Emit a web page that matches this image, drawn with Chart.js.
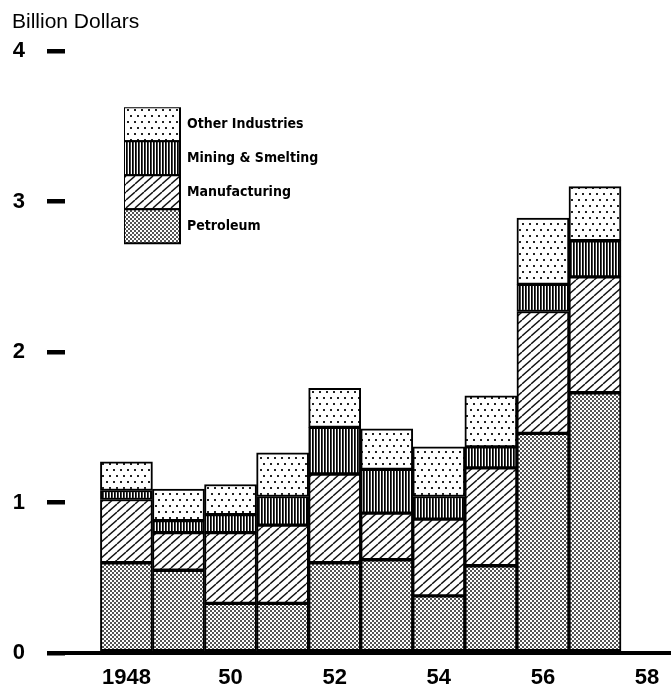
<!DOCTYPE html>
<html>
<head>
<meta charset="utf-8">
<script src="https://cdn.jsdelivr.net/npm/chart.js@4/dist/chart.umd.min.js"></script>
<style>
  html, body { margin: 0; padding: 0; background: #fff; }
  #box { width: 671px; height: 689px; position: relative; }
</style>
</head>
<body>
<div id="box"><canvas id="grafico"></canvas></div>
<script>
// === DATA ===
const years = [1948, 1949, 1950, 1951, 1952, 1953, 1954, 1955, 1956, 1957];
const petroleum = [0.60, 0.55, 0.33, 0.33, 0.60, 0.62, 0.38, 0.58, 1.46, 1.73];
const manufacturing = [0.42, 0.25, 0.47, 0.52, 0.59, 0.31, 0.51, 0.65, 0.81, 0.77];
const mining = [0.06, 0.08, 0.12, 0.19, 0.31, 0.29, 0.15, 0.14, 0.18, 0.24];
const other = [0.19, 0.21, 0.20, 0.29, 0.26, 0.27, 0.33, 0.34, 0.44, 0.36];

const xTickValues = [1948, 1950, 1952, 1954, 1956, 1958];
const xTickLabels = ["1948", "50", "52", "54", "56", "58"];
const yTickValues = [0, 1, 2, 3, 4];

// === PATTERNS ===
function makePattern(w, h, draw) {
  const c = document.createElement("canvas");
  c.width = w; c.height = h;
  const g = c.getContext("2d");
  g.fillStyle = "#fff";
  g.fillRect(0, 0, w, h);
  draw(g, w, h);
  return g.createPattern(c, "repeat");
}

const patPetroleum = makePattern(4, 4, g => {
  g.fillStyle = "#555";
  g.fillRect(0, 0, 2, 2);
  g.fillRect(2, 2, 2, 2);
});

const patManufacturing = makePattern(9, 8, (g, w, h) => {
  g.strokeStyle = "#111";
  g.lineWidth = 1.4;
  for (let k = -1; k <= 1; k++) {
    g.beginPath();
    g.moveTo(k * w, h);
    g.lineTo((k + 1) * w, 0);
    g.stroke();
  }
});

const patMining = makePattern(3, 1, g => {
  g.fillStyle = "#000";
  g.fillRect(0, 0, 1, 1);
  g.fillStyle = "#444";
  g.fillRect(1, 0, 1, 1);
});

const patOther = makePattern(7, 12, g => {
  g.fillStyle = "#222";
  g.fillRect(1, 1, 2, 2);
  g.fillRect(4, 7, 2, 2);
});

function serie(label, values, pattern) {
  return {
    label,
    data: values.map((v, i) => ({ x: years[i], y: v })),
    backgroundColor: pattern,
    borderColor: "#000",
    borderWidth: 2,
    borderSkipped: false,
    categoryPercentage: 1,
    barPercentage: 1
  };
}

// legend sits inside the plot, near the top-left
const moveLegend = {
  id: "moveLegend",
  afterLayout(chart) {
    const lg = chart.legend, a = chart.chartArea;
    lg.left = a.left + 59;
    lg.top = a.top + 56;
    lg.right = lg.left + lg.width;
    lg.bottom = lg.top + lg.height;
  }
};

const tickFont = { family: "'Liberation Sans', Arial, sans-serif", size: 22, weight: "bold" };

new Chart(document.getElementById("grafico"), {
  type: "bar",
  data: {
    datasets: [
      serie("Petroleum", petroleum, patPetroleum),
      serie("Manufacturing", manufacturing, patManufacturing),
      serie("Mining & Smelting", mining, patMining),
      serie("Other Industries", other, patOther)
    ]
  },
  plugins: [moveLegend],
  options: {
    responsive: true,
    maintainAspectRatio: false,
    animation: false,
    layout: { padding: { left: 12, right: 0, top: 0, bottom: 0 } },
    plugins: {
      tooltip: { enabled: false },
      title: {
        display: true,
        text: "Billion Dollars",
        align: "start",
        color: "#000",
        font: { family: "'Liberation Sans', Arial, sans-serif", size: 21, weight: "normal" },
        padding: { top: 10, bottom: 16 }
      },
      legend: {
        position: "chartArea",
        fullSize: false,
        align: "start",
        reverse: true,
        labels: {
          boxWidth: 56,
          boxHeight: 34,
          padding: 0,
          color: "#000",
          font: { family: "'Liberation Sans Narrow', 'DejaVu Sans Condensed', 'Liberation Sans', sans-serif", size: 14, weight: "bold" }
        }
      }
    },
    scales: {
      x: {
        type: "linear",
        stacked: true,
        offset: false,
        min: 1946.82,
        max: 1958.46,
        grid: { display: false, drawTicks: false },
        border: { display: true, color: "#000", width: 4 },
        afterBuildTicks: s => { s.ticks = xTickValues.map(v => ({ value: v })); },
        afterFit: s => { s.paddingLeft = 0; s.paddingRight = 0; s.height = 36; },
        ticks: {
          color: "#000",
          padding: 14,
          autoSkip: false,
          maxRotation: 0,
          font: { ...tickFont, lineHeight: 1 },
          callback: v => xTickLabels[xTickValues.indexOf(v)]
        }
      },
      y: {
        stacked: true,
        min: 0,
        max: 4,
        border: { display: false },
        grid: { drawOnChartArea: false, drawTicks: true, tickLength: 18, lineWidth: 4.5, color: "#000" },
        afterBuildTicks: s => { s.ticks = yTickValues.map(v => ({ value: v })); },
        afterFit: s => { s.width = 53; },
        ticks: {
          color: "#000",
          padding: 22,
          font: tickFont,
          callback: v => String(v)
        }
      }
    }
  }
});
</script>
</body>
</html>
